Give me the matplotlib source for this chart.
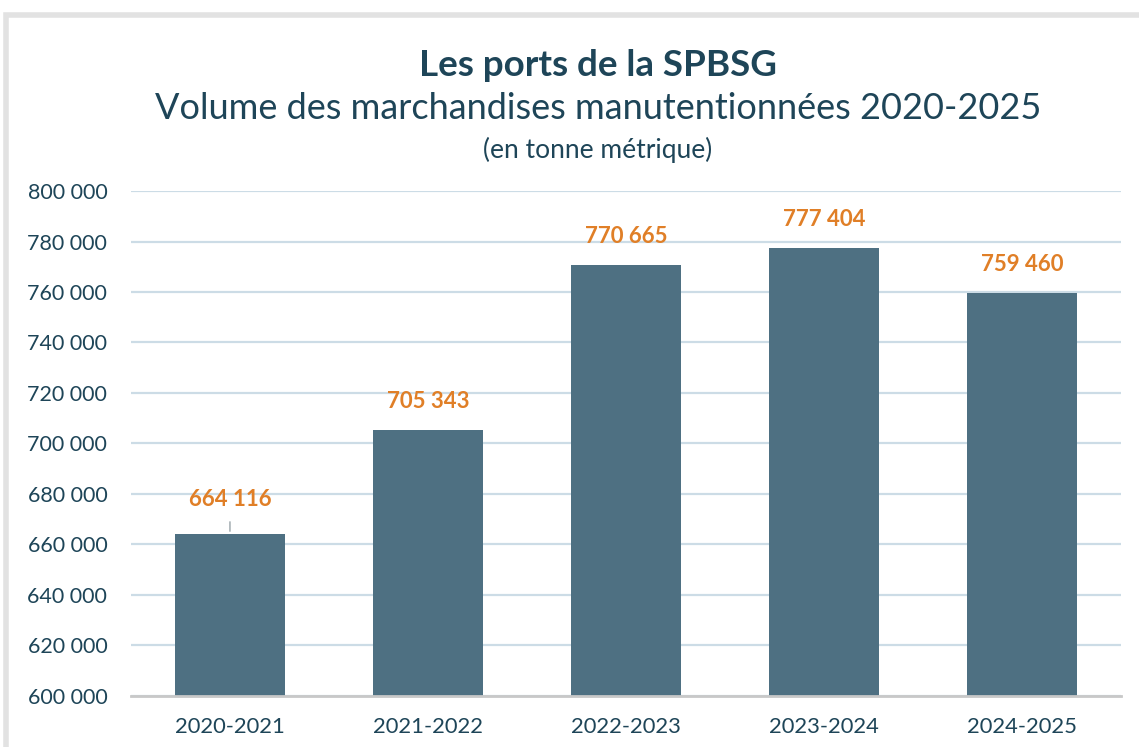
import numpy as np
import matplotlib.pyplot as plt
from matplotlib.patches import Rectangle

# Data
periodes = ["2020-2021", "2021-2022", "2022-2023", "2023-2024", "2024-2025"]
volumes = [664116, 705343, 770665, 777404, 759460]
yticks = list(range(600000, 800001, 20000))

bar_color = "#4E7082"
text_color = "#1E4558"
label_color = "#E07F27"
grid_color = "#CCDCE6"


def fmt(v):
    return f"{v:,}".replace(",", " ")


plt.rcParams['font.family'] = ['Lato', 'DejaVu Sans']

fig = plt.figure(figsize=(11.39, 7.47), dpi=100)
# light frame around the chart
fig.patches.append(Rectangle((0.005, -0.01), 1.2, 0.99, transform=fig.transFigure,
                             fill=False, edgecolor="#E2E2E2", linewidth=4))

ax = fig.add_axes([0.115, 0.0683, 0.869, 0.676])
x = np.arange(len(periodes))
ax.bar(x, volumes, width=0.555, color=bar_color, zorder=3)

ax.set_xlim(-0.5, len(periodes) - 0.5)
ax.set_ylim(600000, 800000)
ax.set_yticks(yticks)
ax.set_yticklabels([fmt(t) for t in yticks])
ax.set_xticks(x)
ax.set_xticklabels(periodes)
ax.tick_params(axis="both", length=0, labelsize=15.5, colors=text_color)
ax.tick_params(axis="y", pad=17)
ax.tick_params(axis="x", labelsize=15.8, pad=15)
ax.yaxis.grid(True, color=grid_color, linewidth=1.6, zorder=0)
for s in ["top", "right", "left"]:
    ax.spines[s].set_visible(False)
ax.spines["bottom"].set_color("#C8C8C8")
ax.spines["bottom"].set_linewidth(2)
ax.spines["bottom"].set_zorder(4)

for i, v in enumerate(volumes):
    off = 13
    if i == 0:
        off = 17
        ax.annotate("", xy=(i, v), xytext=(i, v + 6000),
                    arrowprops=dict(arrowstyle="-", color="#7F8C93", lw=0.8))
    ax.annotate(fmt(v), xy=(i, v), xytext=(0, off), textcoords="offset points",
                ha="center", va="bottom", fontsize=16, fontweight="bold",
                color=label_color)

fig.text(0.525, 0.912, "Les ports de la SPBSG", ha="center", va="center",
         fontsize=26.5, fontweight="bold", color=text_color)
fig.text(0.525, 0.855, "Volume des marchandises manutentionnées 2020-2025",
         ha="center", va="center", fontsize=26, color=text_color)
fig.text(0.525, 0.799, "(en tonne métrique)", ha="center", va="center",
         fontsize=19, color=text_color)

fig.savefig("out.png", dpi=100)
